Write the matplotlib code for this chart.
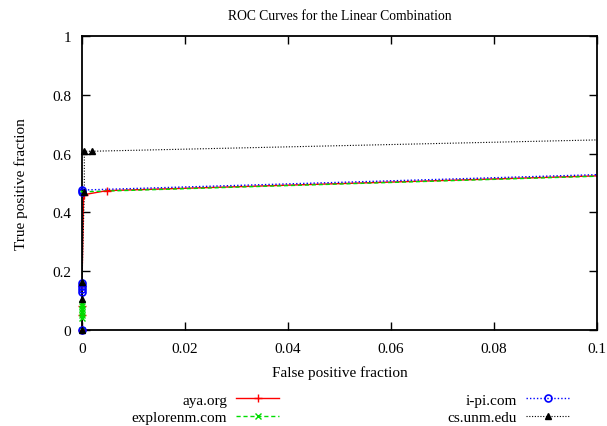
import matplotlib
matplotlib.use("Agg")
import matplotlib.pyplot as plt

title = "ROC Curves for the Linear Combination"
xlabel = "False positive fraction"
ylabel = "True positive fraction"
xticks = [0, 0.02, 0.04, 0.06, 0.08, 0.1]
xticklabels = ["0", "0.02", "0.04", "0.06", "0.08", "0.1"]
yticks = [0, 0.2, 0.4, 0.6, 0.8, 1]
yticklabels = ["0", "0.2", "0.4", "0.6", "0.8", "1"]

aya_x = [0, 0, 0, 0, 0.0003, 0.0048, 1]
aya_y = [0, 0.05, 0.08, 0.15, 0.46, 0.474, 1]

explorenm_x = [0, 0, 0, 0, 0, 0, 0, 0, 1]
explorenm_y = [0, 0.04, 0.05, 0.06, 0.07, 0.08, 0.09, 0.47, 1]

ipi_x = [0, 0, 0, 0, 0, 0, 0, 1]
ipi_y = [0, 0.13, 0.14, 0.15, 0.16, 0.47, 0.476, 1]

csunm_x = [0, 0, 0, 0.00045, 0.00045, 0.0019, 1]
csunm_y = [0, 0.105, 0.163, 0.47, 0.608, 0.608, 1]

labels = ["aya.org", "explorenm.com", "i-pi.com", "cs.unm.edu"]

plt.rcParams['font.family'] = ['Liberation Serif', 'DejaVu Serif']
fs = 11
fs_title = 9.8

fig = plt.figure(figsize=(6.07, 4.27), dpi=100)
ax = fig.add_axes([82/607, 1-331/427, 515/607, 294/427])

XMAX = 0.1

series = [
    (aya_x, aya_y, dict(color='#ff0000', lw=1.0, ls='-'), dict(marker='+', ms=6, mew=1.0, color='#ff0000')),
    (explorenm_x, explorenm_y, dict(color='#00dd00', lw=1.0, ls=(0, (3, 2))), dict(marker='x', ms=5, mew=1.0, color='#00dd00')),
    (ipi_x, ipi_y, dict(color='#0000ff', lw=1.0, ls=(0, (1, 1.5))), dict(marker='o', ms=5, mfc='none', mew=1.2, color='#0000ff')),
    (csunm_x, csunm_y, dict(color='#000000', lw=0.8, ls=(0, (1, 1.5))), dict(marker='^', ms=4.5, mfc='black', color='#000000')),
]

handles = []
for xs, ys, lkw, mkw in series:
    ax.plot(xs, ys, **lkw)
    px = [x for x in xs if x <= XMAX]
    py = [y for x, y in zip(xs, ys) if x <= XMAX]
    ax.plot(px, py, ls='none', clip_on=False, zorder=3, **mkw)
    h, = ax.plot([], [], **lkw, **{k: v for k, v in mkw.items() if k != 'color'})
    handles.append(h)

ax.set_xlim(0, XMAX)
ax.set_ylim(0, 1)
ax.set_xticks(xticks)
ax.set_xticklabels(xticklabels, fontsize=fs)
ax.set_yticks(yticks)
ax.set_yticklabels(yticklabels, fontsize=fs)
ax.tick_params(direction='in', top=True, right=True, length=5.5, width=1)
ax.tick_params(axis='x', pad=9)
ax.tick_params(axis='y', pad=8)
for s in ax.spines.values():
    s.set_linewidth(1.3)

ax.set_title(title, fontsize=fs_title, pad=12)
ax.set_xlabel(xlabel, fontsize=fs, labelpad=7)
ax.set_ylabel(ylabel, fontsize=fs, labelpad=17)

common = dict(loc='upper right', frameon=False, markerfirst=False, fontsize=fs,
              handlelength=2.8, numpoints=1, labelspacing=0.25,
              handletextpad=0.6, borderaxespad=0, borderpad=0)
fig.legend(handles[:2], labels[:2], bbox_to_anchor=(279/607, 1-394/427), **common)
fig.legend(handles[2:], labels[2:], bbox_to_anchor=(569/607, 1-394/427), **common)

fig.savefig("out.png", dpi=100)
